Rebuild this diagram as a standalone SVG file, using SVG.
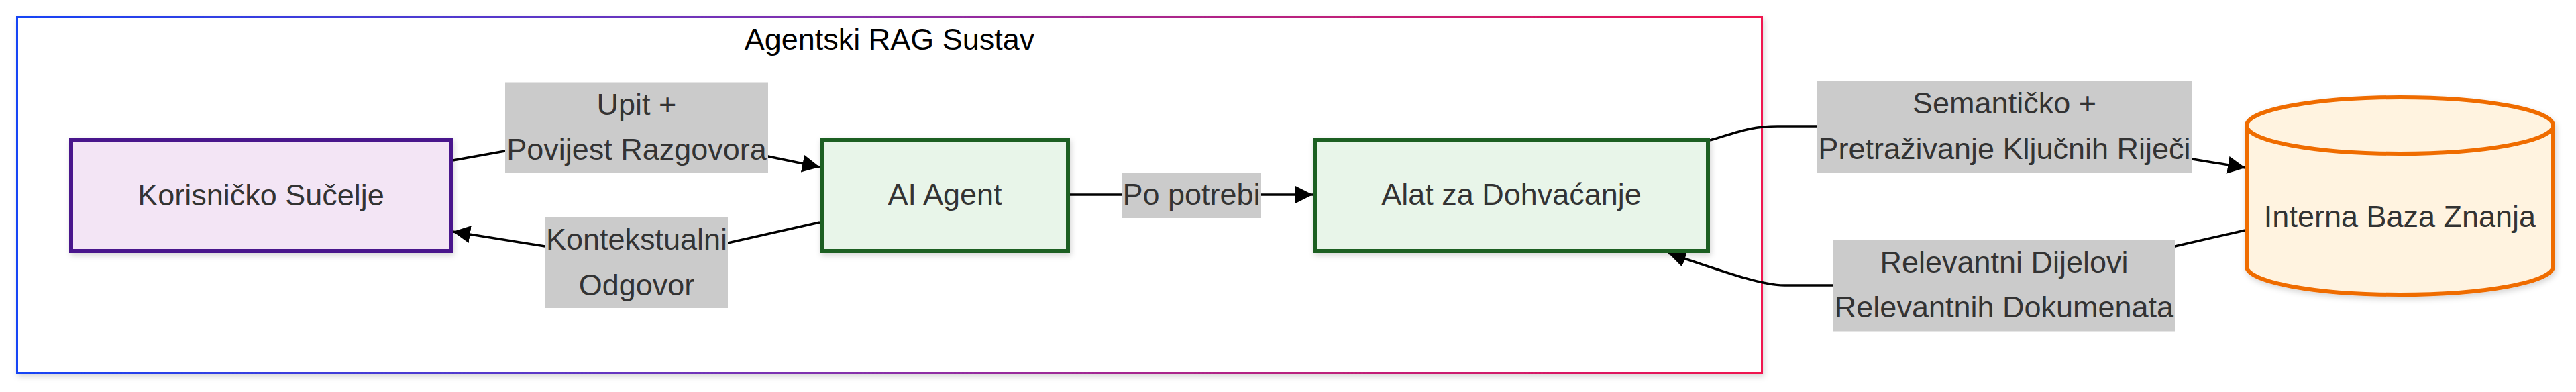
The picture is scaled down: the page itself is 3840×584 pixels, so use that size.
<svg xmlns="http://www.w3.org/2000/svg" width="3840" height="584" viewBox="0 0 3840 584">
<defs>
<linearGradient id="clusterGrad" x1="0" y1="0" x2="1" y2="0">
<stop offset="0" stop-color="#1744f5"/>
<stop offset="0.5" stop-color="#8a2fa8"/>
<stop offset="1" stop-color="#f0124f"/>
</linearGradient>
<filter id="shadow" x="-10%" y="-20%" width="120%" height="140%">
<feDropShadow dx="2" dy="4" stdDeviation="4" flood-color="#000" flood-opacity="0.16"/>
</filter>
<marker id="arrow" viewBox="0 0 10 10" refX="10" refY="5" markerUnits="userSpaceOnUse" markerWidth="26" markerHeight="26" orient="auto">
<path d="M0,0 L10,5 L0,10 z" fill="#000"/>
</marker>
<style>
.node text, .lbl text, .title { font-family: "Liberation Sans", Arial, sans-serif; font-size: 45px; text-anchor: middle; }
.node text, .lbl text { fill: #333333; }
.title { fill: #000000; }
.purple { fill: #f3e5f5; stroke: #4a148c; stroke-width: 6; }
.green { fill: #e8f5e9; stroke: #1b5e20; stroke-width: 6; }
.orange { fill: #fff3e0; stroke: #ef6c00; stroke-width: 6; }
.edge { fill: none; stroke: #000; stroke-width: 3.5; }
.lbl rect { fill: #cbcbcb; }
</style>
</defs>
<rect width="3840" height="584" fill="#ffffff"/>

<g id="cluster">
<rect x="25.5" y="25.5" width="2601" height="530" fill="#ffffff" stroke="url(#clusterGrad)" stroke-width="3" filter="url(#shadow)"/>
<text class="title" x="1326" y="74">Agentski RAG Sustav</text>
</g>

<g id="connectors">
<path class="edge" d="M675,239 L753,225 L1145,233 L1222,249" marker-end="url(#arrow)"/>
<path class="edge" d="M1222,331 L1085,362 L812.5,367 L675,345" marker-end="url(#arrow)"/>
<path class="edge" d="M1595,290 L1957,290" marker-end="url(#arrow)"/>
<path class="edge" d="M2549,209 C2590,197 2610,188 2650,188 L3180,188 L3268,237 L3347,250" marker-end="url(#arrow)"/>
<path class="edge" d="M3347,343 L3242,367 L3100,400 L2733,425 L2660,425 C2630,425 2590,412 2487,377" marker-end="url(#arrow)"/>
</g>

<g id="labels">
<g class="lbl" id="label-upit">
<rect x="753" y="122.5" width="392" height="135"/>
<text x="949" y="170.5">Upit +</text>
<text x="949" y="238">Povijest Razgovora</text>
</g>
<g class="lbl" id="label-kontekst">
<rect x="812.5" y="323.5" width="272.5" height="135.5"/>
<text x="949" y="371.5">Kontekstualni</text>
<text x="949" y="440">Odgovor</text>
</g>
<g class="lbl" id="label-po">
<rect x="1672" y="257" width="208" height="68"/>
<text x="1776" y="305">Po potrebi</text>
</g>
<g class="lbl" id="label-sem">
<rect x="2708" y="121" width="560" height="136"/>
<text x="2988" y="169">Semantičko +</text>
<text x="2988" y="236.5">Pretraživanje Ključnih Riječi</text>
</g>
<g class="lbl" id="label-rel">
<rect x="2733" y="357.5" width="509" height="136"/>
<text x="2987.5" y="405.5">Relevantni Dijelovi</text>
<text x="2987.5" y="473">Relevantnih Dokumenata</text>
</g>
</g>

<g id="node-ui" class="node">
<rect class="purple" x="106" y="208" width="566" height="166" filter="url(#shadow)"/>
<text x="389" y="306">Korisničko Sučelje</text>
</g>
<g id="node-agent" class="node">
<rect class="green" x="1225" y="208" width="367" height="166" filter="url(#shadow)"/>
<text x="1408.5" y="305">AI Agent</text>
</g>
<g id="node-tool" class="node">
<rect class="green" x="1960" y="208" width="586" height="166" filter="url(#shadow)"/>
<text x="2253" y="305">Alat za Dohvaćanje</text>
</g>
<g id="node-db" class="node">
<path class="orange" d="M3349,187 a228.5,42 0 0,0 457,0 a228.5,42 0 0,0 -457,0 l0,210 a228.5,42 0 0,0 457,0 l0,-210" filter="url(#shadow)"/>
<text x="3577.5" y="338">Interna Baza Znanja</text>
</g>
</svg>
